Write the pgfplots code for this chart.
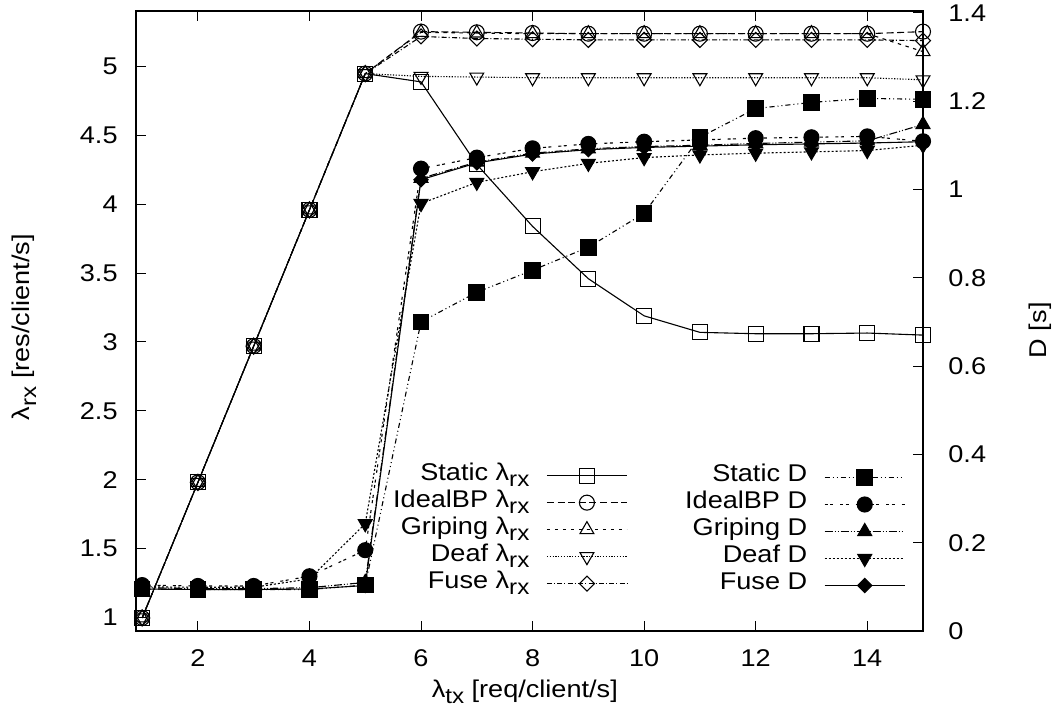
\documentclass[border=0pt]{standalone}
\usepackage{fontspec}
\setmainfont[FakeStretch=1.12]{Liberation Sans}
\usepackage{pgfplots}
\pgfplotsset{compat=1.18}
\newcommand{\sub}[1]{\raisebox{-0.5ex}{\fontsize{10.8}{11}\selectfont #1}}

% 1 px of the reference = 0.5pt
\pgfplotsset{
  common/.style={
    scale only axis, width=393.5pt, height=310pt,
    at={(0,0)}, anchor=south west,
    xmin=0.89, xmax=15, clip=false,
    tick align=inside, major tick length=5pt,
    tick style={line width=0.5pt, black},
    axis line style={line width=0.6pt},
    /pgf/number format/assume math mode=true,
    tick label style={font=\fontsize{12.1}{14}\selectfont},
    every axis plot/.append style={line width=0.55pt, black},
    legend cell align=right, legend plot pos=right,
    legend image code/.code={\draw[mark repeat=2,mark phase=2] plot coordinates {(0pt,0pt)(20pt,0pt)(40pt,0pt)};},
  },
  lgd/.style={legend style={at={#1}, anchor=north east, draw=none, fill=none,
    inner sep=0pt, row sep=0pt, font=\fontsize{12.1}{14}\selectfont,
    nodes={inner sep=0pt, text height=9pt, text depth=4.5pt},
    /tikz/every odd column/.append style={column sep=8.5pt}}},
}

\begin{document}
\begin{tikzpicture}[font=\fontsize{12.1}{14}\selectfont]
\begin{axis}[common,
  ymin=0.9, ymax=5.405,
  xtick={2,4,6,8,10,12,14}, ytick={1,1.5,2,2.5,3,3.5,4,4.5,5},
  xtick pos=both, ytick pos=left,
  xticklabel style={inner sep=0pt, anchor=north, yshift=-9pt},
  yticklabel style={inner sep=0pt, anchor=east, xshift=-9pt},
  xlabel={λ\sub{tx} [req/client/s]},
  ylabel={λ\sub{rx} [res/client/s]},
  every axis x label/.style={at={(axis description cs:0.494,-0.1065)}, anchor=base},
  every axis y label/.style={at={(axis description cs:-0.142,0.49)}, anchor=center, rotate=90},
  lgd={(0.625,0.273)},
]
\addplot[solid, mark=square, mark size=3.75pt, mark options={solid}] coordinates {
  (1,0.995)(2,1.98)(3,2.97)(4,3.96)(5,4.95)(6,4.89)(7,4.29)(8,3.84)
  (9,3.46)(10,3.19)(11,3.07)(12,3.06)(13,3.06)(14,3.065)(15,3.05)};
\addplot[dash pattern=on 3.5pt off 1.8pt, mark=o, mark size=3.75pt, mark options={solid}] coordinates {
  (1,0.995)(2,1.98)(3,2.97)(4,3.96)(5,4.95)(6,5.255)(7,5.25)(8,5.245)
  (9,5.24)(10,5.24)(11,5.24)(12,5.24)(13,5.24)(14,5.24)(15,5.255)};
\addplot[dash pattern=on 1.7pt off 2.3pt, mark=triangle, mark size=4pt, mark options={solid}] coordinates {
  (1,0.995)(2,1.98)(3,2.97)(4,3.96)(5,4.95)(6,5.25)(7,5.245)(8,5.24)
  (9,5.24)(10,5.24)(11,5.24)(12,5.24)(13,5.24)(14,5.24)(15,5.11)};
\addplot[dash pattern=on 0.6pt off 0.8pt, mark=triangle, mark size=4pt, mark options={solid, rotate=180}] coordinates {
  (1,0.995)(2,1.98)(3,2.97)(4,3.96)(5,4.95)(6,4.93)(7,4.925)(8,4.92)
  (9,4.92)(10,4.92)(11,4.92)(12,4.92)(13,4.92)(14,4.92)(15,4.905)};
\addplot[dash pattern=on 2.5pt off 1pt on 0.5pt off 1.2pt, mark=square, mark size=2.65pt, mark options={solid, rotate=45}] coordinates {
  (1,0.995)(2,1.98)(3,2.97)(4,3.96)(5,4.95)(6,5.22)(7,5.205)(8,5.2)
  (9,5.195)(10,5.195)(11,5.195)(12,5.195)(13,5.195)(14,5.195)(15,5.19)};
\legend{Static λ\sub{rx}, IdealBP λ\sub{rx}, Griping λ\sub{rx}, Deaf λ\sub{rx}, Fuse λ\sub{rx}}
\end{axis}

\begin{axis}[common,
  ymin=0, ymax=1.404,
  axis x line=none, axis y line*=right,
  ytick={0,0.2,0.4,0.6,0.8,1,1.2,1.4},
  yticklabel style={inner sep=0pt, anchor=west, xshift=12.5pt},
  ylabel={D [s]},
  every axis y label/.style={at={(axis description cs:1.149,0.485)}, anchor=center, rotate=90},
  lgd={(0.978,0.270)},
]
\addplot[dash pattern=on 2.5pt off 1.5pt on 0.5pt off 1.5pt on 0.5pt off 1.5pt, mark=square*, mark size=3.9pt, mark options={solid}] coordinates {
  (1,0.095)(2,0.094)(3,0.094)(4,0.094)(5,0.104)(6,0.70)(7,0.767)(8,0.817)
  (9,0.869)(10,0.946)(11,1.118)(12,1.183)(13,1.197)(14,1.206)(15,1.204)};
\addplot[dash pattern=on 1.5pt off 1.2pt on 1.5pt off 3.5pt, mark=*, mark size=3.75pt, mark options={solid}] coordinates {
  (1,0.104)(2,0.102)(3,0.102)(4,0.124)(5,0.183)(6,1.047)(7,1.072)(8,1.093)
  (9,1.103)(10,1.108)(11,1.112)(12,1.116)(13,1.118)(14,1.12)(15,1.109)};
\addplot[dash pattern=on 4pt off 1pt on 0.5pt off 1pt on 0.5pt off 1pt, mark=triangle*, mark size=4pt, mark options={solid}] coordinates {
  (1,0.098)(2,0.096)(3,0.096)(4,0.098)(5,0.11)(6,1.025)(7,1.062)(8,1.082)
  (9,1.092)(10,1.097)(11,1.1)(12,1.104)(13,1.107)(14,1.11)(15,1.147)};
\addplot[dash pattern=on 1pt off 1pt, mark=triangle*, mark size=4pt, mark options={solid, rotate=180}] coordinates {
  (1,0.1)(2,0.099)(3,0.099)(4,0.118)(5,0.243)(6,0.968)(7,1.016)(8,1.04)
  (9,1.059)(10,1.072)(11,1.078)(12,1.082)(13,1.085)(14,1.088)(15,1.10)};
\addplot[solid, mark=square*, mark size=2.5pt, mark options={solid, rotate=45}] coordinates {
  (1,0.095)(2,0.094)(3,0.094)(4,0.095)(5,0.103)(6,1.022)(7,1.06)(8,1.08)
  (9,1.09)(10,1.095)(11,1.098)(12,1.101)(13,1.103)(14,1.105)(15,1.108)};
\legend{Static D, IdealBP D, Griping D, Deaf D, Fuse D}
\end{axis}
\pgfresetboundingbox
\path (-68pt,-43pt) rectangle (458.5pt,315.5pt);
\end{tikzpicture}
\end{document}
